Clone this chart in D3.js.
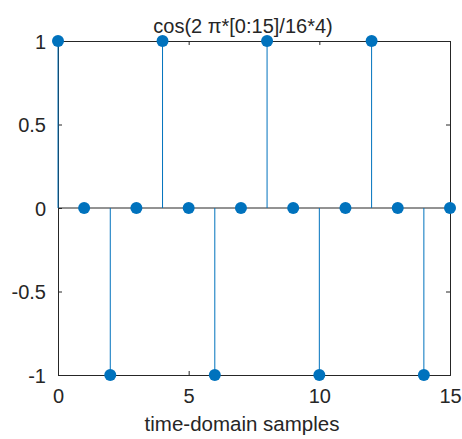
<!DOCTYPE html>
<html>
<head>
<meta charset="utf-8">
<script src="https://cdn.jsdelivr.net/npm/d3@7"></script>
<style>
  body { margin: 0; background: #fff; }
  text { font-family: "Liberation Sans", Arial, sans-serif; fill: #262626; }
</style>
</head>
<body>
<div id="stem_chart"></div>
<script>
/* stem plot of cos(2*pi*n/16*4) */

const samples = [0, 1, 2, 3, 4, 5, 6, 7, 8, 9, 10, 11, 12, 13, 14, 15];
const values = [1, 0, -1, 0, 1, 0, -1, 0, 1, 0, -1, 0, 1, 0, -1, 0];
const xTicks = [0, 5, 10, 15];
const yTicks = [-1, -0.5, 0, 0.5, 1];

const data = samples.map((n, i) => ({ n: n, v: values[i] }));

const width = 462,
      height = 439,
      margin = ({ top: 41, right: 12, bottom: 64, left: 58 });

let svg = d3.select("#stem_chart")
    .append("svg")
    .attr("width", width)
    .attr("height", height);

let x = d3.scaleLinear()
    .domain([0, 15])
    .range([margin.left, width - margin.right]);

let y = d3.scaleLinear()
    .domain([-1, 1])
    .range([height - margin.bottom, margin.top]);

const tickLen = 4;
const axisColor = "#262626";
const fontSize = "20px";
const fmt = d => String(d); // plain hyphen for negatives, like the original

// axes, ticks pointing inside
let xAxis = svg.append("g")
    .attr("transform", `translate(0,${y(-1)})`)
    .call(d3.axisBottom(x).tickValues(xTicks).tickSize(-tickLen).tickPadding(14).tickFormat(fmt));

let xAxisTop = svg.append("g")
    .attr("transform", `translate(0,${y(1)})`)
    .call(d3.axisTop(x).tickValues(xTicks).tickSize(-tickLen).tickFormat(""));

let yAxis = svg.append("g")
    .attr("transform", `translate(${x(0)},0)`)
    .call(d3.axisLeft(y).tickValues(yTicks).tickSize(-tickLen).tickPadding(12).tickFormat(fmt));

let yAxisRight = svg.append("g")
    .attr("transform", `translate(${x(15)},0)`)
    .call(d3.axisRight(y).tickValues(yTicks).tickSize(-tickLen).tickFormat(""));

for (let g of [xAxis, xAxisTop, yAxis, yAxisRight]) {
    g.select(".domain").attr("stroke", axisColor).attr("stroke-width", 1);
    g.selectAll(".tick line").attr("stroke", axisColor);
    g.selectAll(".tick text")
        .style("font-size", fontSize)
        .attr("fill", axisColor)
        .style("font-family", "'Liberation Sans', Arial, sans-serif");
}
yAxis.selectAll(".tick text").attr("dy", "0.36em");

// baseline at zero
svg.append("line")
    .attr("x1", x(0))
    .attr("x2", x(15))
    .attr("y1", y(0))
    .attr("y2", y(0))
    .attr("stroke", axisColor)
    .attr("stroke-width", 1);

// stems
svg.selectAll(".stem")
    .data(data)
    .join("line")
    .attr("class", "stem")
    .attr("x1", d => x(d.n))
    .attr("x2", d => x(d.n))
    .attr("y1", y(0))
    .attr("y2", d => y(d.v))
    .attr("stroke", "#0072BD")
    .attr("stroke-width", 1);

// markers
svg.selectAll(".dot")
    .data(data)
    .join("circle")
    .attr("class", "dot")
    .attr("cx", d => x(d.n))
    .attr("cy", d => y(d.v))
    .attr("r", 6)
    .attr("fill", "#0072BD");

// title (sits a bit left of the axes centre in the original)
svg.append("text")
    .attr("x", 243)
    .attr("y", 33)
    .attr("text-anchor", "middle")
    .style("font-size", fontSize)
    .text("cos(2 \u03C0*[0:15]/16*4)");

// x label
svg.append("text")
    .attr("x", 242)
    .attr("y", 431)
    .attr("text-anchor", "middle")
    .style("font-size", "20.5px")
    .text("time-domain samples");
</script>
</body>
</html>
